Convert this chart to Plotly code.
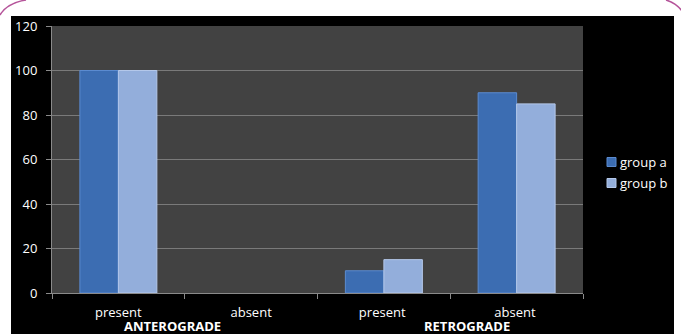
import plotly.graph_objects as go

# Data
categories = ["present", "absent", "present ", "absent "]
group_labels = ["ANTEROGRADE", "RETROGRADE"]
series_names = ["group a", "group b"]
group_a = [100, 0, 10, 90]
group_b = [100, 0, 15, 85]
y_ticks = [0, 20, 40, 60, 80, 100, 120]

W, H = 681, 334
ML, MR, MT, MB = 52, 98, 26, 41
PW, PH = W - ML - MR, H - MT - MB


def px(x):
    return (x - ML) / PW


def py(y):
    return (H - MB - y) / PH


FONT = "Open Sans, Liberation Sans, sans-serif"
COLORS = ["#3c6db2", "#93aedb"]
EDGES = ["#5b8bd0", "#b4c8ea"]

fig = go.Figure()
for name, vals, col, edge in zip(series_names, [group_a, group_b], COLORS, EDGES):
    fig.add_trace(go.Bar(
        x=categories, y=vals, name=name,
        marker=dict(color=col,
                    line=dict(color=edge, width=[1 if v > 0 else 0 for v in vals])),
    ))

shapes = [
    # black chart panel
    dict(type="rect", xref="paper", yref="paper", layer="below",
         x0=px(11), x1=px(674), y0=py(334), y1=py(16),
         fillcolor="black", line=dict(width=0)),
    # plot area fill
    dict(type="rect", xref="paper", yref="paper", layer="below",
         x0=0, x1=1, y0=0, y1=1, fillcolor="#424242", line=dict(width=0)),
    # rounded frame corners
    dict(type="path", xref="paper", yref="paper",
         path=f"M {px(0)},{py(15)} Q {px(7)},{py(3)} {px(26)},{py(0)}",
         line=dict(color="#b5549a", width=1.5)),
    dict(type="path", xref="paper", yref="paper",
         path=f"M {px(666)},{py(0)} Q {px(676)},{py(3)} {px(682)},{py(11)}",
         line=dict(color="#b5549a", width=1.5)),
]

annotations = [
    dict(text=f"<b>{group_labels[0]}</b>", xref="paper", yref="paper",
         x=px(172), y=py(326), showarrow=False, xanchor="center", yanchor="middle",
         font=dict(family=FONT, size=13, color="white")),
    dict(text=f"<b>{group_labels[1]}</b>", xref="paper", yref="paper",
         x=px(467), y=py(326), showarrow=False, xanchor="center", yanchor="middle",
         font=dict(family=FONT, size=13, color="white")),
]

# legend entries: small swatch plus label
for i, (name, col, edge) in enumerate(zip(series_names, COLORS, EDGES)):
    yc = 162 + 21 * i
    shapes.append(dict(type="rect", xref="paper", yref="paper",
                       x0=px(607), x1=px(616), y0=py(yc + 4.5), y1=py(yc - 4.5),
                       fillcolor=col, line=dict(color=edge, width=1)))
    annotations.append(dict(text=name, xref="paper", yref="paper",
                            x=px(618), y=py(yc), showarrow=False,
                            xanchor="left", yanchor="middle",
                            font=dict(family=FONT, size=13, color="white")))

fig.update_layout(
    width=W, height=H,
    margin=dict(l=ML, r=MR, t=MT, b=MB, pad=0),
    paper_bgcolor="white",
    plot_bgcolor="#424242",
    barmode="group", bargap=0.42, bargroupgap=0,
    font=dict(family=FONT, size=13, color="white"),
    shapes=shapes,
    annotations=annotations,
    showlegend=False,
)
fig.update_xaxes(
    type="category", tickson="boundaries", ticks="outside", ticklen=5,
    tickcolor="#8a8a8a", showline=True, linecolor="#8a8a8a", linewidth=1,
    showgrid=False, tickfont=dict(size=13, color="white"), ticklabelstandoff=7,
)
fig.update_yaxes(
    range=[0, 120], tickvals=y_ticks, ticks="outside", ticklen=5,
    tickcolor="#8a8a8a", showline=True, linecolor="#8a8a8a", linewidth=1,
    gridcolor="#7a7a7a", gridwidth=1, zeroline=False,
    tickfont=dict(size=13, color="white"), ticklabelstandoff=6,
)

fig.write_html("out.html")
